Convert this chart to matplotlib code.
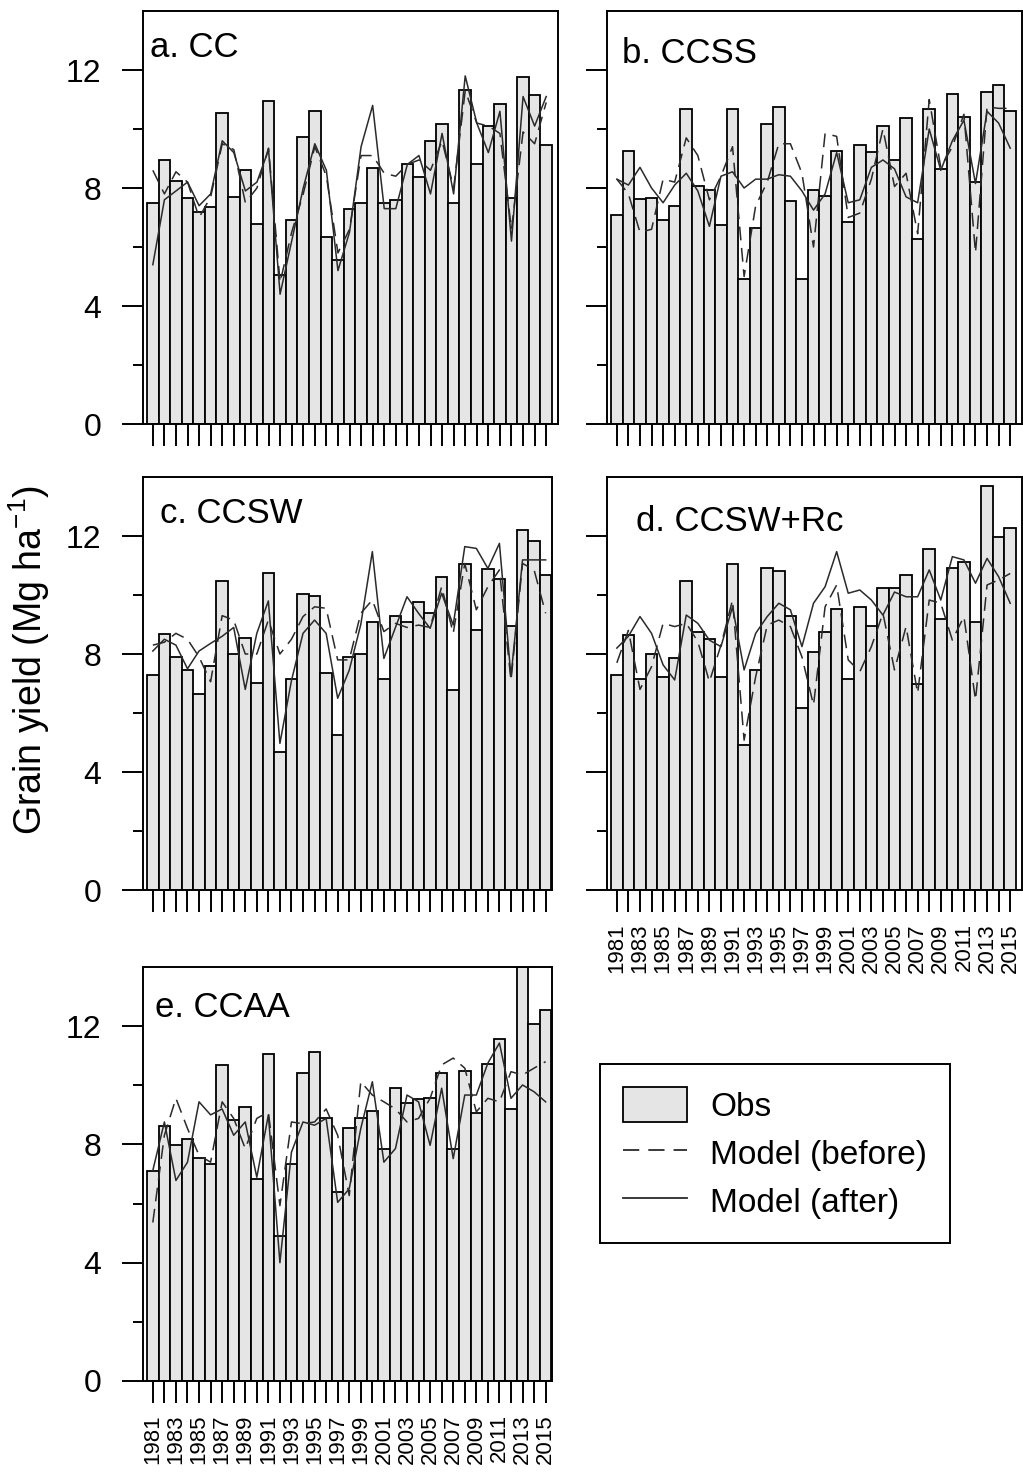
import numpy as np
import matplotlib
matplotlib.use('Agg')
import matplotlib.pyplot as plt
from matplotlib.patches import Patch
from matplotlib.lines import Line2D

plt.rcParams['font.family'] = ['Liberation Sans', 'DejaVu Sans']
plt.rcParams['mathtext.fontset'] = 'custom'
plt.rcParams['mathtext.rm'] = 'Liberation Sans'

years = list(range(1981, 2016))

# observed yields (bars)
obs_a = [7.48, 8.94, 8.24, 7.66, 7.19, 7.36, 10.54, 7.68, 8.62, 6.77, 10.94, 5.04, 6.90, 9.74, 10.61, 6.33, 5.55, 7.29,
         7.50, 8.69, 7.49, 7.60, 8.82, 8.37, 9.58, 10.17, 7.49, 11.32, 8.82, 10.09, 10.86, 7.66, 11.75, 11.16, 9.46]
obs_b = [7.10, 9.27, 7.62, 7.67, 6.92, 7.40, 10.68, 8.07, 7.93, 6.76, 10.68, 4.90, 6.64, 10.17, 10.73, 7.55, 4.90, 7.92,
         7.74, 9.27, 6.86, 9.46, 9.22, 10.10, 8.94, 10.37, 6.27, 10.68, 8.63, 11.18, 10.42, 8.19, 11.25, 11.50, 10.61]
obs_c = [7.28, 8.69, 7.91, 7.46, 6.63, 7.59, 10.47, 8.00, 8.55, 7.02, 10.73, 4.67, 7.15, 10.03, 9.97, 7.34, 5.24, 7.91,
         8.00, 9.08, 7.15, 9.28, 9.08, 9.77, 9.38, 10.60, 6.78, 11.05, 8.81, 10.88, 10.55, 8.96, 12.20, 11.83, 10.67]
obs_d = [7.28, 8.64, 7.15, 8.00, 7.22, 7.85, 10.47, 8.76, 8.51, 7.22, 11.04, 4.92, 7.46, 10.93, 10.80, 9.28, 6.18, 8.06,
         8.76, 9.51, 7.15, 9.59, 8.96, 10.24, 10.24, 10.67, 6.97, 11.56, 9.20, 10.92, 11.11, 9.07, 13.68, 11.95, 12.26]
obs_e = [7.11, 8.62, 7.97, 8.20, 7.54, 7.34, 10.67, 8.82, 9.25, 6.84, 11.05, 4.89, 7.34, 10.43, 11.11, 8.88, 6.38, 8.56,
         8.88, 9.14, 7.86, 9.91, 9.39, 9.52, 9.58, 10.43, 7.86, 10.48, 9.07, 10.73, 11.58, 9.20, 14.0, 12.06, 12.54]

# model before calibration (dashed)
before_a = [8.6, 7.8, 8.55, 8.2, 7.0, 7.7, 9.5, 9.3, 7.5, 8.0, 9.35, 4.8, 6.5, 7.8, 9.4, 8.4, 5.8, 6.6,
            9.1, 9.1, 8.5, 8.4, 8.8, 8.95, 8.6, 9.6, 8.0, 11.3, 10.2, 10.1, 9.85, 6.6, 9.9, 9.5, 10.9]
before_b = [8.3, 7.8, 6.5, 6.6, 8.3, 8.2, 9.7, 9.1, 7.6, 8.4, 9.4, 5.0, 7.4, 8.2, 9.5, 9.5, 8.5, 6.0,
            9.85, 9.75, 7.0, 7.15, 8.3, 10.0, 8.05, 8.5, 6.45, 11.0, 8.7, 9.4, 10.5, 5.8, 10.75, 10.7, 10.7]
before_c = [8.3, 8.4, 8.7, 8.5, 7.9, 7.06, 9.3, 9.15, 8.0, 8.0, 9.15, 8.0, 8.5, 9.27, 9.6, 9.55, 7.8, 7.8,
            9.38, 9.83, 8.76, 9.04, 8.9, 8.98, 8.9, 10.28, 8.7, 11.07, 9.5, 10.28, 10.85, 7.1, 11.07, 10.85, 9.38]
before_d = [7.7, 8.8, 6.8, 7.57, 9.04, 8.93, 9.04, 8.42, 7.06, 8.3, 9.83, 5.08, 7.23, 8.98, 9.15, 8.93, 7.9, 6.27,
            9.6, 10.34, 7.8, 7.4, 8.25, 9.38, 7.46, 8.93, 6.67, 9.83, 9.72, 8.47, 9.27, 6.44, 10.34, 10.51, 10.73]
before_e = [5.36, 8.31, 9.56, 8.54, 7.63, 7.4, 9.44, 8.88, 7.86, 8.88, 9.1, 5.93, 8.76, 8.7, 8.76, 9.2, 8.31, 6.27,
            10.12, 9.67, 9.44, 9.2, 8.76, 8.88, 9.56, 10.69, 10.92, 10.58, 9.1, 9.56, 9.44, 10.46, 10.35, 10.58, 10.8]

# model after calibration (solid)
after_a = [5.4, 7.6, 7.9, 8.2, 7.4, 7.8, 9.6, 9.2, 7.9, 8.2, 9.3, 4.4, 6.2, 8.0, 9.5, 8.6, 5.2, 6.5,
           9.4, 10.8, 7.3, 7.3, 8.8, 9.1, 7.8, 9.85, 7.8, 11.8, 10.2, 9.2, 10.6, 6.2, 11.1, 10.1, 11.1]
after_b = [8.3, 8.1, 8.7, 8.0, 7.5, 8.1, 8.5, 7.9, 6.7, 8.4, 8.55, 8.0, 8.3, 8.3, 8.45, 8.4, 7.9, 7.25,
           7.8, 9.2, 7.5, 7.6, 8.7, 8.95, 8.65, 7.7, 7.5, 10.0, 8.6, 9.6, 10.3, 8.15, 10.6, 10.2, 9.35]
after_c = [8.1, 8.5, 8.3, 7.5, 8.1, 8.36, 8.6, 8.9, 6.8, 8.7, 9.8, 4.97, 7.1, 8.7, 9.15, 8.7, 6.5, 7.45,
           9.0, 11.47, 7.85, 8.9, 9.94, 9.38, 8.87, 10.06, 8.98, 11.64, 11.58, 10.9, 11.75, 7.23, 11.19, 11.19, 11.19]
after_d = [8.2, 8.6, 9.27, 8.7, 7.63, 7.12, 9.32, 9.04, 8.47, 8.25, 9.6, 7.46, 8.7, 9.27, 9.72, 9.5, 8.25, 9.72,
           10.28, 11.47, 10.06, 10.17, 9.83, 9.32, 10.1, 9.94, 9.94, 10.85, 9.83, 11.3, 11.19, 10.4, 11.24, 10.62, 9.72]
after_e = [7.12, 8.76, 6.78, 7.4, 9.44, 9.0, 9.2, 8.31, 8.76, 6.89, 9.0, 4.0, 7.74, 8.76, 8.65, 8.88, 6.04, 6.5,
           8.54, 10.12, 7.4, 7.86, 9.67, 9.44, 7.97, 9.9, 7.52, 9.67, 9.67, 10.75, 11.43, 9.56, 10.01, 9.78, 9.44]

titles = ['a. CC', 'b. CCSS', 'c. CCSW', 'd. CCSW+Rc', 'e. CCAA']
yticks = [0, 4, 8, 12]

W, H = 1023, 1475
fig = plt.figure(figsize=(W / 100, H / 100), dpi=100)


def rect(x0, y0, x1, y1):
    return [x0 / W, 1 - y1 / H, (x1 - x0) / W, (y1 - y0) / H]


panels = [
    (titles[0], obs_a, before_a, after_a, rect(143, 11, 558, 424), 35.02, True, False, (0.017, 0.889)),
    (titles[1], obs_b, before_b, after_b, rect(607, 11, 1022, 424), 35.02, False, False, (0.036, 0.874)),
    (titles[2], obs_c, before_c, after_c, rect(143, 477, 552, 890), 34.55, True, False, (0.041, 0.889)),
    (titles[3], obs_d, before_d, after_d, rect(607, 477, 1022, 890), 35.02, False, True, (0.07, 0.869)),
    (titles[4], obs_e, before_e, after_e, rect(143, 967, 552, 1381), 34.55, True, True, (0.029, 0.879)),
]

dash = (0, (9, 5))
x = np.arange(len(years))
for title, obs, bef, aft, pos, xr, ylab, xlab, tpos in panels:
    ax = fig.add_axes(pos)
    ax.bar(x, obs, width=1.0, color='#e5e5e5', edgecolor='black', linewidth=1.3)
    ax.plot(x, bef, color='#2a2a2a', lw=1.1, linestyle=dash)
    ax.plot(x, aft, color='#2a2a2a', lw=1.1)
    ax.set_xlim(-0.85, xr)
    ax.set_ylim(0, 14)
    ax.set_yticks(yticks)
    ax.set_yticks([2, 6, 10], minor=True)
    ax.tick_params(axis='y', which='major', length=15, width=1.4, pad=15, labelsize=23, labelleft=ylab)
    ax.tick_params(axis='y', which='minor', length=7, width=1.4)
    ax.set_xticks(x)
    if xlab:
        ax.set_xticklabels([str(yr) if yr % 2 == 1 else '' for yr in years], rotation=90, fontsize=16)
    else:
        ax.set_xticklabels([])
    ax.tick_params(axis='x', length=16, width=1.4, pad=8)
    for s in ax.spines.values():
        s.set_linewidth(1.4)
    ax.text(tpos[0], tpos[1], title, transform=ax.transAxes, fontsize=25, ha='left', va='baseline')

fig.text(29 / W, 1 - 660 / H, r'Grain yield (Mg ha$^{\mathregular{-1}}$)', rotation=90,
         ha='center', va='center', fontsize=27)

handles = [Patch(facecolor='#e5e5e5', edgecolor='black', linewidth=1.3),
           Line2D([], [], color='#2a2a2a', lw=1.3, linestyle=dash),
           Line2D([], [], color='#2a2a2a', lw=1.3)]
leg = fig.legend(handles, ['Obs', 'Model (before)', 'Model (after)'], loc='upper left',
                 bbox_to_anchor=(600 / W, 1 - 1064 / H), borderaxespad=0, fontsize=24,
                 frameon=True, fancybox=False, edgecolor='black', framealpha=1,
                 handlelength=1.9, handleheight=1.2, labelspacing=0.39, borderpad=0.7,
                 handletextpad=0.7)
leg.get_frame().set_linewidth(1.4)

fig.savefig('out.png', dpi=100)
